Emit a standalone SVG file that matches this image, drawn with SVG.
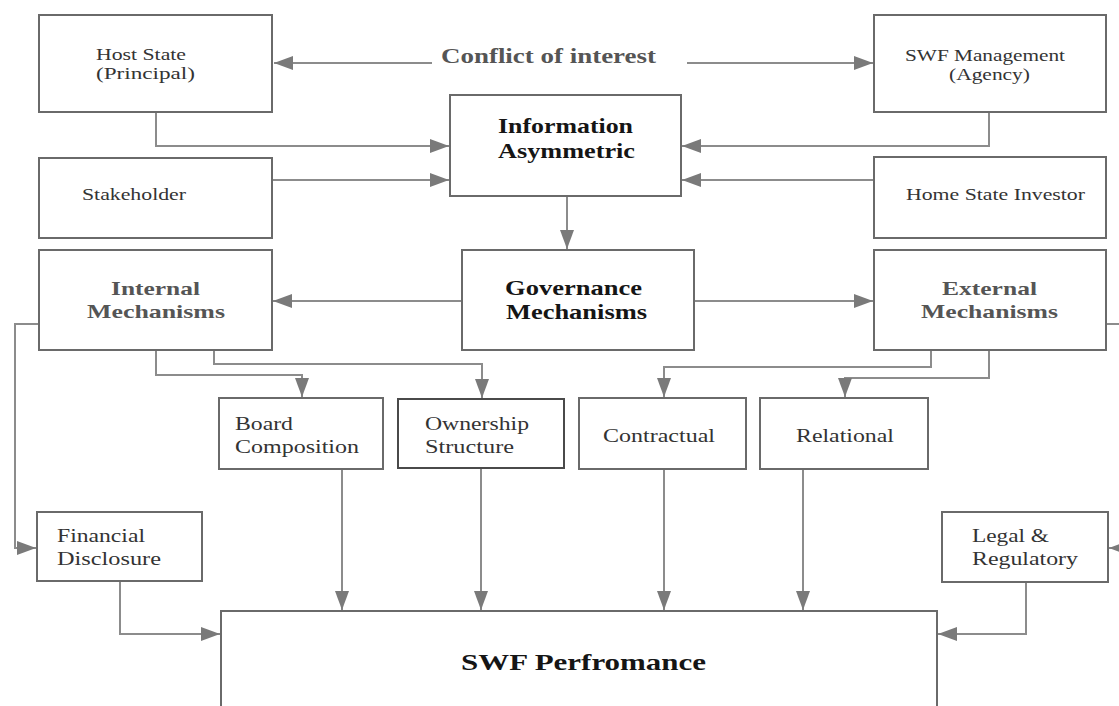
<svg xmlns="http://www.w3.org/2000/svg" width="1119" height="706" viewBox="0 0 1119 706">
<style>
.box{fill:#fff;stroke:#6a6a6a;stroke-width:2}
.ln{fill:none;stroke:#8c8c8c;stroke-width:2}
.t{font-family:"Liberation Serif",serif;font-size:18px;fill:#333}
.s{font-size:16px}
.b{font-family:"Liberation Serif",serif;font-size:21px;font-weight:bold;fill:#151515}
.g{font-family:"Liberation Serif",serif;font-size:19px;font-weight:bold;fill:#555}
</style>
<defs>
<marker id="ah" markerUnits="userSpaceOnUse" markerWidth="19" markerHeight="14" refX="19" refY="7" orient="auto">
<path d="M0,0 L19,7 L0,14 z" fill="#7a7a7a"/>
</marker>
</defs>
<rect width="1119" height="706" fill="#fff"/>
<g id="connectors" class="ln" marker-end="url(#ah)">
<path d="M432,63 H274"/>
<path d="M687,63 H873"/>
<path d="M156,112 V146 H449"/>
<path d="M989,112 V146 H682"/>
<path d="M272,180 H449"/>
<path d="M874,180 H682"/>
<path d="M567,196 V249"/>
<path d="M462,301 H273"/>
<path d="M694,301 H873"/>
<path d="M156,350 V375 H302 V397"/>
<path d="M214,350 V364 H482 V398"/>
<path d="M931,350 V367 H664 V397"/>
<path d="M989,350 V378 H845 V397"/>
<path d="M39,324 H15 V548 H36"/>
<path d="M1106,324 H1135 V548 H1109"/>
<path d="M342,469 V610"/>
<path d="M481,468 V610"/>
<path d="M664,469 V610"/>
<path d="M803,469 V610"/>
<path d="M120,581 V634 H220"/>
<path d="M1026,582 V634 H938"/>
</g>
<text x="441" y="63" class="g" style="font-size:20px" textLength="215" lengthAdjust="spacingAndGlyphs">Conflict of interest</text>
<g id="host-state">
<rect class="box" x="39" y="15" width="233" height="97"/>
<text class="t s" x="96" y="60" textLength="90" lengthAdjust="spacingAndGlyphs">Host State</text>
<text class="t s" x="96" y="79" textLength="99" lengthAdjust="spacingAndGlyphs">(Principal)</text>
</g>
<g id="swf-management">
<rect class="box" x="874" y="15" width="232" height="97"/>
<text class="t s" x="905" y="61" textLength="160" lengthAdjust="spacingAndGlyphs">SWF Management</text>
<text class="t s" x="949" y="80" textLength="81" lengthAdjust="spacingAndGlyphs">(Agency)</text>
</g>
<g id="information-asymmetric">
<rect class="box" x="450" y="95" width="231" height="101"/>
<text class="b" x="498" y="133" textLength="135" lengthAdjust="spacingAndGlyphs">Information</text>
<text class="b" x="498" y="158" textLength="137" lengthAdjust="spacingAndGlyphs">Asymmetric</text>
</g>
<g id="stakeholder">
<rect class="box" x="39" y="158" width="233" height="80"/>
<text class="t s" x="82" y="200" textLength="104" lengthAdjust="spacingAndGlyphs">Stakeholder</text>
</g>
<g id="home-state-investor">
<rect class="box" x="874" y="157" width="232" height="81"/>
<text class="t s" x="906" y="200" textLength="179" lengthAdjust="spacingAndGlyphs">Home State Investor</text>
</g>
<g id="governance-mechanisms">
<rect class="box" x="462" y="250" width="232" height="100"/>
<text class="b" x="505" y="295" textLength="137" lengthAdjust="spacingAndGlyphs">Governance</text>
<text class="b" x="506" y="319" textLength="141" lengthAdjust="spacingAndGlyphs">Mechanisms</text>
</g>
<g id="internal-mechanisms">
<rect class="box" x="39" y="250" width="233" height="100"/>
<text class="g" x="111" y="295" textLength="89" lengthAdjust="spacingAndGlyphs">Internal</text>
<text class="g" x="87" y="318" textLength="138" lengthAdjust="spacingAndGlyphs">Mechanisms</text>
</g>
<g id="external-mechanisms">
<rect class="box" x="874" y="250" width="232" height="100"/>
<text class="g" x="942" y="295" textLength="95" lengthAdjust="spacingAndGlyphs">External</text>
<text class="g" x="921" y="318" textLength="137" lengthAdjust="spacingAndGlyphs">Mechanisms</text>
</g>
<g id="board-composition">
<rect class="box" x="219" y="398" width="164" height="71"/>
<text class="t" x="235" y="430" textLength="58" lengthAdjust="spacingAndGlyphs">Board</text>
<text class="t" x="235" y="453" textLength="124" lengthAdjust="spacingAndGlyphs">Composition</text>
</g>
<g id="ownership-structure">
<rect class="box" x="398" y="399" width="166" height="69" style="stroke:#4a4a4a"/>
<text class="t" x="425" y="430" textLength="104" lengthAdjust="spacingAndGlyphs">Ownership</text>
<text class="t" x="425" y="453" textLength="89" lengthAdjust="spacingAndGlyphs">Structure</text>
</g>
<g id="contractual">
<rect class="box" x="579" y="398" width="167" height="71"/>
<text class="t" x="603" y="442" textLength="112" lengthAdjust="spacingAndGlyphs">Contractual</text>
</g>
<g id="relational">
<rect class="box" x="760" y="398" width="168" height="71"/>
<text class="t" x="796" y="442" textLength="98" lengthAdjust="spacingAndGlyphs">Relational</text>
</g>
<g id="financial-disclosure">
<rect class="box" x="37" y="512" width="165" height="69"/>
<text class="t" x="57" y="542" textLength="88" lengthAdjust="spacingAndGlyphs">Financial</text>
<text class="t" x="57" y="565" textLength="104" lengthAdjust="spacingAndGlyphs">Disclosure</text>
</g>
<g id="legal-regulatory">
<rect class="box" x="942" y="512" width="166" height="70"/>
<text class="t" x="972" y="542" textLength="77" lengthAdjust="spacingAndGlyphs">Legal &amp;</text>
<text class="t" x="972" y="565" textLength="106" lengthAdjust="spacingAndGlyphs">Regulatory</text>
</g>
<g id="swf-performance">
<rect class="box" x="221" y="611" width="716" height="110"/>
<text class="b" style="font-size:24px" x="461" y="670" textLength="245" lengthAdjust="spacingAndGlyphs">SWF Perfromance</text>
</g>
</svg>
